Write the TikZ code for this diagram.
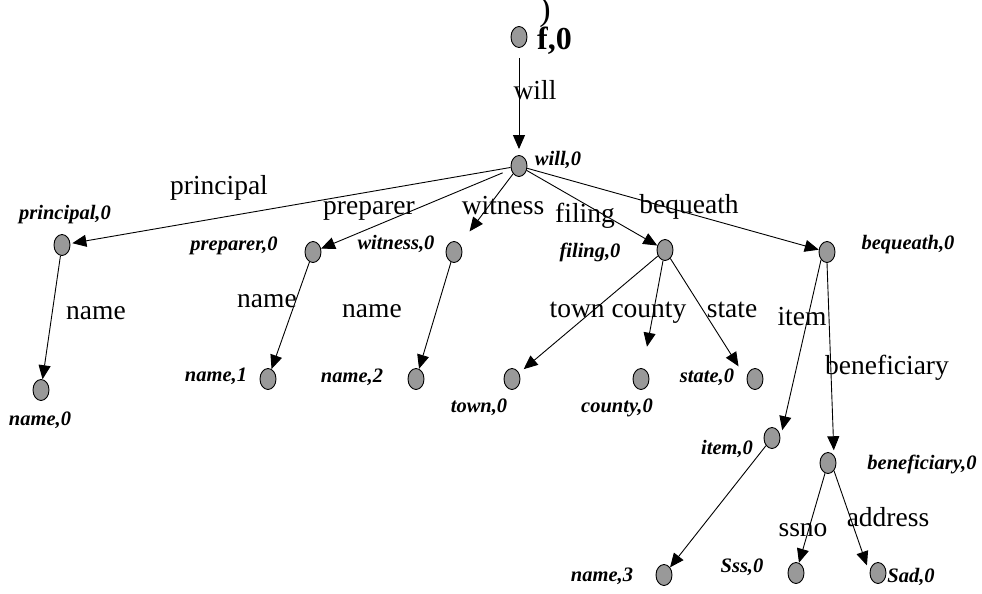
\documentclass[tikz,border=0pt]{standalone}
\usepackage{fontspec}
\setmainfont{Liberation Serif}
\usetikzlibrary{arrows.meta,shapes.geometric}
\definecolor{vgray}{RGB}{153,153,153}
\begin{document}
\begin{tikzpicture}[x=1pt,y=-1pt,
  vtx/.style={draw,ellipse,fill=vgray,minimum width=16pt,minimum height=21pt,inner sep=0pt,line width=0.9pt},
  elab/.style={font=\fontsize{27.5}{30}\selectfont,inner sep=0pt,text height=0.7em,text depth=0.2em},
  vlab/.style={font=\fontsize{20.5}{24}\selectfont\bfseries\itshape,inner sep=0pt,text height=0.7em,text depth=0.2em},
  arr/.style={-{Triangle[length=14pt,width=12pt]},line width=0.9pt}]
\useasboundingbox[fill=white] (0,0) rectangle (982,594);

% vertices
\node[vtx] (f) at (519,37) {};
\node[vtx] (will) at (519,166) {};
\node[vtx] (principal) at (62,245) {};
\node[vtx] (preparer) at (313,252) {};
\node[vtx] (witness) at (454,252) {};
\node[vtx] (filing) at (665,250) {};
\node[vtx] (bequeath) at (827,252) {};
\node[vtx] (name0) at (41,390) {};
\node[vtx] (name1) at (268,379) {};
\node[vtx] (name2) at (416,379) {};
\node[vtx] (town) at (512,379) {};
\node[vtx] (county) at (641,379) {};
\node[vtx] (state) at (755,379) {};
\node[vtx] (item) at (772,438) {};
\node[vtx] (benef) at (828,463) {};
\node[vtx] (name3) at (664,575) {};
\node[vtx] (sss) at (796,573) {};
\node[vtx] (sad) at (878,573) {};

% vertex labels
\node[font=\fontsize{34}{36}\selectfont,anchor=base,inner sep=0pt] (paren) at (545,21) {)};
\node[font=\fontsize{32}{36}\selectfont\bfseries,anchor=base west,inner sep=0pt] (lf) at (537,50) {f,0};
\node[vlab] (lwill) at (558,163) {will,0};
\node[vlab] (lprincipal) at (65,217) {principal,0};
\node[vlab] (lpreparer) at (234,248) {preparer,0};
\node[vlab] (lwitness) at (396,247) {witness,0};
\node[vlab] (lfiling) at (590,255) {filing,0};
\node[vlab] (lbequeath) at (908,247) {bequeath,0};
\node[vlab] (lname0) at (40,423) {name,0};
\node[vlab] (lname1) at (216,379) {name,1};
\node[vlab] (lname2) at (352,380) {name,2};
\node[vlab] (ltown) at (479,410) {town,0};
\node[vlab] (lcounty) at (617,410) {county,0};
\node[vlab] (lstate) at (707,380) {state,0};
\node[vlab] (litem) at (727,452) {item,0};
\node[vlab] (lbenef) at (922,467) {beneficiary,0};
\node[vlab] (lname3) at (602,579) {name,3};
\node[vlab] (lsss) at (742,570) {Sss,0};
\node[vlab] (lsad) at (911,580) {Sad,0};

% edges
\draw[arr,shorten <=10pt,shorten >=6pt] (f) -- (will);
\draw[arr,shorten >=2pt] (will) -- (principal);
\draw[arr,shorten <=9pt] (will) -- (preparer);
\draw[arr,shorten >=16pt] (will) -- (witness);
\draw[arr] (will) -- (filing);
\draw[arr] (will) -- (bequeath);
\draw[arr] (principal) -- (name0);
\draw[arr] (preparer) -- (name1);
\draw[arr] (witness) -- (name2);
\draw[arr,shorten >=6pt] (filing) -- (town);
\draw[arr,shorten >=22pt] (filing) -- (county);
\draw[arr,shorten >=15pt] (filing) -- (state.west);
\draw[arr,shorten >=8pt] (bequeath.south west) -- (item.east);
\draw[arr,shorten >=5pt] (bequeath.south) -- (benef.north east);
\draw[arr] (item) -- (name3);
\draw[arr] (benef) -- (sss);
\draw[arr,shorten >=8pt] (benef.south east) -- (sad.west);

% edge labels
\node[elab] (ewill) at (535,97) {will};
\node[elab] (eprincipal) at (219,192) {principal};
\node[elab] (epreparer) at (369,212) {preparer};
\node[elab] (ewitness) at (503,212) {witness};
\node[elab] (efiling) at (585,220) {filing};
\node[elab] (ebequeath) at (689,211) {bequeath};
\node[elab] (ename0) at (96,317) {name};
\node[elab] (ename1) at (267,305) {name};
\node[elab] (ename2) at (372,315) {name};
\node[elab] (etowncounty) at (618,315) {town county};
\node[elab] (estate) at (732,315) {state};
\node[elab] (eitem) at (802,323) {item};
\node[elab] (ebenef) at (887,372) {beneficiary};
\node[elab] (essno) at (803,534) {ssno};
\node[elab] (eaddress) at (888,524) {address};
\end{tikzpicture}
\end{document}
